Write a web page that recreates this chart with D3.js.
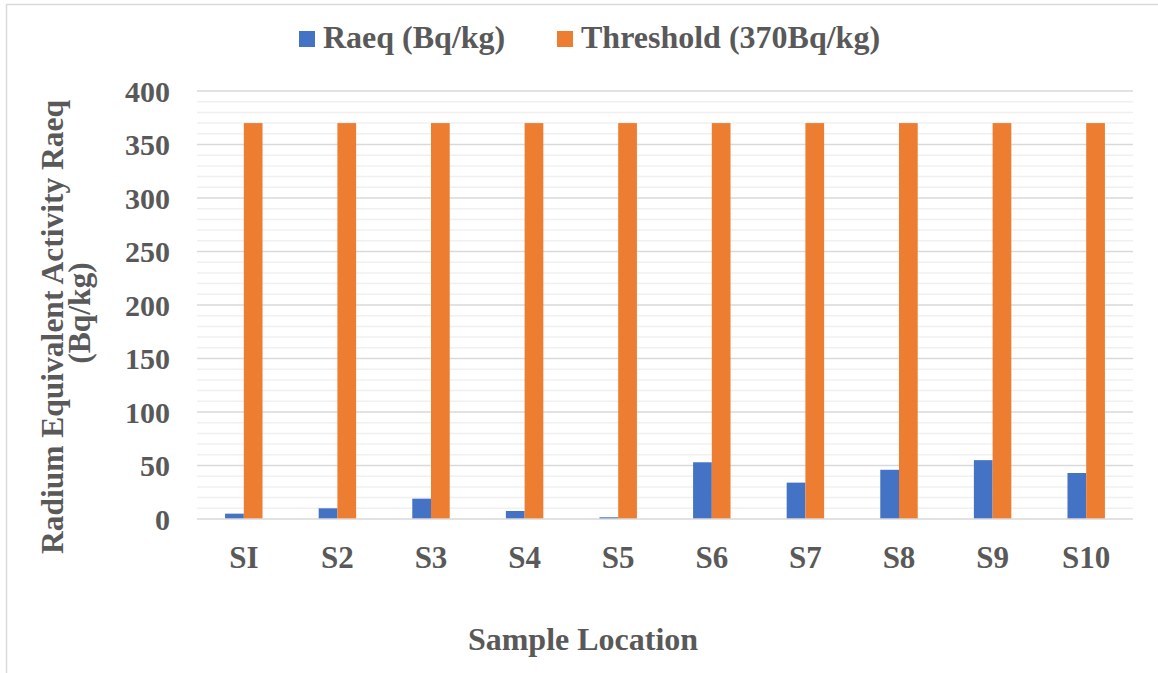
<!DOCTYPE html>
<html><head><meta charset="utf-8">
<script src="https://cdn.jsdelivr.net/npm/d3@7"></script>
<style>body{margin:0;background:#fff}svg{display:block}text{font-family:"Liberation Serif","Times New Roman",serif;font-weight:bold;fill:#595959}</style>
</head><body><svg id="c" width="1158" height="673"></svg>
<script>
const categories = ["SI","S2","S3","S4","S5","S6","S7","S8","S9","S10"];
const raeq = [5, 10, 19, 7.5, 1.6, 53, 34, 46, 55, 43];
const threshold = [370,370,370,370,370,370,370,370,370,370];
const seriesNames = ["Raeq (Bq/kg)", "Threshold (370Bq/kg)"];
const seriesColors = ["#4472c4", "#ed7d31"];
const yTicks = [0,50,100,150,200,250,300,350,400];

const svg = d3.select("#c");
svg.append("rect").attr("x",6.5).attr("y",4.5).attr("width",1160).attr("height",680)
  .attr("fill","#fff").attr("stroke","#d9d9d9").attr("stroke-width",1.5);

const L=197, R=1133, T=91, B=519;
const x = d3.scaleBand().domain(categories).range([L,R]).paddingInner(0).paddingOuter(0);
const y = d3.scaleLinear().domain([0,400]).range([B,T]);
const bw = x.bandwidth()/5;

const g = svg.append("g");
g.selectAll("line.minor").data(d3.range(0,401,10).filter(v=>v%50!==0)).join("line")
  .attr("x1",L).attr("x2",R).attr("y1",d=>y(d)).attr("y2",d=>y(d))
  .attr("stroke","#f0f0f0").attr("stroke-width",1.5);
g.selectAll("line.major").data(yTicks.filter(v=>v>0)).join("line")
  .attr("x1",L).attr("x2",R).attr("y1",d=>y(d)).attr("y2",d=>y(d))
  .attr("stroke","#d9d9d9").attr("stroke-width",1.5);

const series = [raeq, threshold];
series.forEach((vals,si)=>{
  svg.append("g").selectAll("rect").data(vals).join("rect")
    .attr("x",(d,i)=>x(categories[i])+x.bandwidth()/2 - bw + si*bw)
    .attr("width",bw)
    .attr("y",d=>y(d)).attr("height",d=>y(0)-y(d))
    .attr("fill",seriesColors[si]);
});

svg.append("line").attr("x1",L).attr("x2",R).attr("y1",y(0)).attr("y2",y(0))
  .attr("stroke","#d9d9d9").attr("stroke-width",1.5);

const yAxis = d3.axisLeft(y).tickValues(yTicks).tickSize(0).tickPadding(0);
const ya = svg.append("g").attr("transform","translate(170,0)").call(yAxis);
ya.select(".domain").remove();
ya.selectAll("text").style("font-size","30px").attr("fill","#595959").attr("dy","0.34em")
  .style("font-family",'"Liberation Serif",serif').style("font-weight","bold");

const xAxis = d3.axisBottom(x).tickSize(0).tickPadding(0);
const xa = svg.append("g").attr("transform","translate(0,568)").call(xAxis);
xa.select(".domain").remove();
xa.selectAll("text").style("font-size","31px").attr("fill","#595959").attr("dy",0)
  .style("font-family",'"Liberation Serif",serif').style("font-weight","bold");

svg.append("text").attr("x",583).attr("y",650).attr("text-anchor","middle")
  .style("font-size","32px").text("Sample Location");
svg.append("text").attr("transform","translate(63,327) rotate(-90)")
  .attr("text-anchor","middle").style("font-size","31.5px").text("Radium Equivalent Activity Raeq");
svg.append("text").attr("transform","translate(90,313) rotate(-90)")
  .attr("text-anchor","middle").style("font-size","31.5px").text("(Bq/kg)");

const legX = [299, 557];
seriesNames.forEach((n,i)=>{
  svg.append("rect").attr("x",legX[i]).attr("y",31).attr("width",16).attr("height",16).attr("fill",seriesColors[i]);
  svg.append("text").attr("x",legX[i]+24).attr("y",48).style("font-size","32px").text(n);
});
</script></body></html>
